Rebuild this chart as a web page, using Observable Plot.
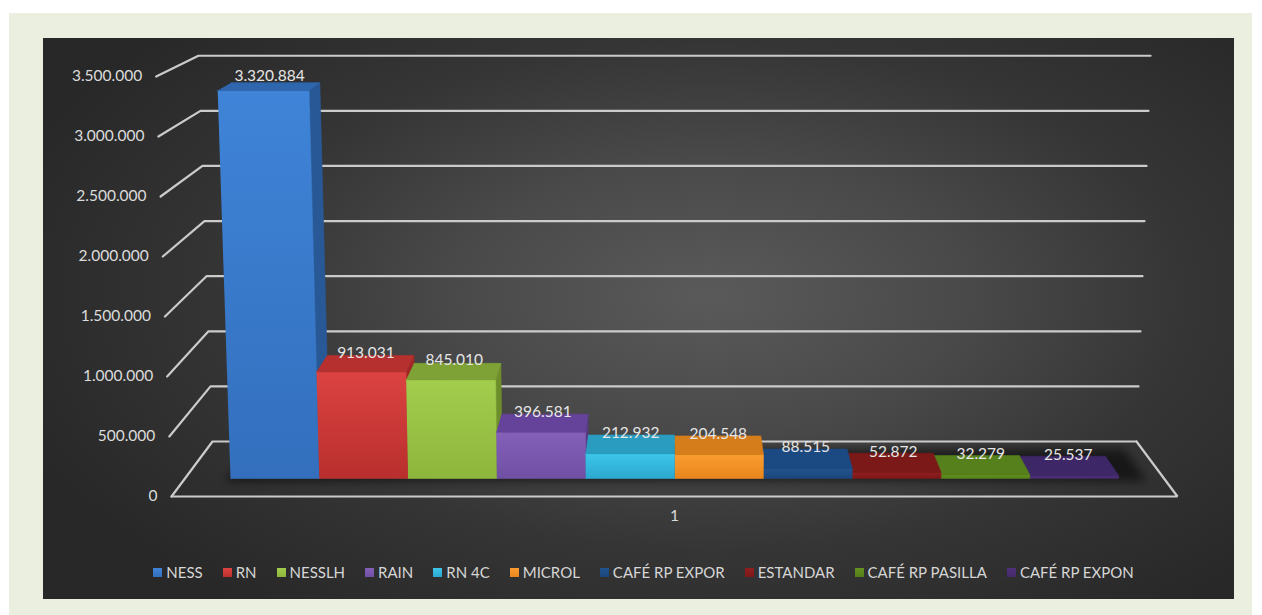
<!DOCTYPE html>
<html>
<head>
<meta charset="utf-8">
<script src="https://cdn.jsdelivr.net/npm/d3@7"></script>
<script src="https://cdn.jsdelivr.net/npm/@observablehq/plot@0.6"></script>
<style>
html,body{margin:0;padding:0;background:#ffffff;}
#page{position:relative;width:1262px;height:615px;overflow:hidden;font-family:Lato,"Open Sans",sans-serif;}
#frame{position:absolute;left:9px;top:13px;width:1243px;height:610px;background:#ebefdf;}
#panel{position:absolute;left:43px;top:38px;width:1191px;height:561px;
  background:radial-gradient(ellipse 62% 70% at 56% 46%, #5a5a5a 0%, #494949 35%, #353535 65%, #282828 100%);}
#chart{position:absolute;left:0;top:0;}
#legend{position:absolute;left:48px;width:1191px;top:563px;display:flex;justify-content:center;align-items:center;
  color:#d6d6d6;font-size:15px;white-space:nowrap;}
#legend .item{display:flex;align-items:center;margin:0 10px;}
#legend .sw{width:9px;height:9px;margin-right:4px;}
</style>
</head>
<body>
<div id="page">
  <div id="frame"></div>
  <div id="panel"></div>
  <div id="chart"></div>
  <div id="legend"></div>
</div>
<script>
// ---------- data ----------
const categories = ["NESS","RN","NESSLH","RAIN","RN 4C","MICROL","CAFÉ RP EXPOR","ESTANDAR","CAFÉ RP PASILLA","CAFÉ RP EXPON"];
const values = [3320884, 913031, 845010, 396581, 212932, 204548, 88515, 52872, 32279, 25537];
const yTicks = [0, 500000, 1000000, 1500000, 2000000, 2500000, 3000000, 3500000];
const yTickLabels = ["0","500.000","1.000.000","1.500.000","2.000.000","2.500.000","3.000.000","3.500.000"];
const xCategoryLabels = ["1"];

// ---------- colours ----------
const frontTop    = ["#3f84d8","#db4341","#a3cd4d","#8460ba","#3cc6ea","#fa9c30","#22548f","#921f1f","#64921f","#50317b"];
const frontBottom = ["#336fbd","#b92f2d","#8db63c","#7050a3","#2ca8cf","#e8861c","#1b467c","#7d1818","#557e1a","#442a69"];
const topColors   = ["#2f67ae","#b5302e","#7fa236","#66439a","#2a9cc0","#d67d1b","#1b4a83","#7b1919","#55801b","#3e2767"];
const sideColors  = ["#285996","#9f2826","#6e8e2c","#583a85","#2386a6","#bb6c15","#173f70","#6a1515","#496f17","#352158"];

// ---------- 3-D scene geometry (in data units of the x/y scales) ----------
const VP = {u: 5, v: 5625000};          // vanishing point
const KEY = 0.0087e-6;                   // vertical convergence
const DEPTH = {barFront: 1, barBack: 0.9705, wallFront: 1.0274, wallBack: 0.9437, label: 0.985};
const WALL = {u0: -0.513, u1: 10.513};
function P(u, v, s) {
  const uk = VP.u + (u - VP.u) * (1 + KEY * v);
  return {u: VP.u + s * (uk - VP.u), v: VP.v + s * (v - VP.v)};
}

// grid lines (wall + floor)
const gridPts = [];
yTicks.forEach(t => {
  [P(WALL.u0, t, DEPTH.wallFront), P(WALL.u0, t, DEPTH.wallBack), P(WALL.u1, t, DEPTH.wallBack)]
    .forEach(p => gridPts.push({...p, id: "t" + t}));
});
[P(WALL.u0, 0, DEPTH.wallFront), P(WALL.u1, 0, DEPTH.wallFront), P(WALL.u1, 0, DEPTH.wallBack)]
  .forEach(p => gridPts.push({...p, id: "floor"}));

// shadow on the floor
const shadowPts = [P(-0.05, 0, 1.004), P(10.3, 0, 1.004), P(10.3, 0, 0.955), P(0.05, 0, 0.955)]
  .map(p => ({...p, id: "shadow"}));

// bar faces, painter's order
const order = d3.range(values.length).sort((a, b) => {
  const da = Math.abs(a + 0.5 - VP.u), db = Math.abs(b + 0.5 - VP.u);
  return db - da || values[a] - values[b];
});
const facePts = [];
order.forEach(i => {
  const v = values[i], u0 = i, u1 = i + 1, f = DEPTH.barFront, b = DEPTH.barBack;
  const push = (name, pts, fill) => pts.forEach(p => facePts.push({...p, id: name + i, fill}));
  if (u1 < VP.u) push("side", [P(u1,0,f), P(u1,v,f), P(u1,v,b), P(u1,0,b)], sideColors[i]);
  if (u0 > VP.u) push("side", [P(u0,0,f), P(u0,v,f), P(u0,v,b), P(u0,0,b)], sideColors[i]);
  push("front", [P(u0,0,f), P(u1,0,f), P(u1,v,f), P(u0,v,f)], `url(#grad${i})`);
  push("top", [P(u0,v,f), P(u1,v,f), P(u1,v,b), P(u0,v,b)], topColors[i]);
});

const fmt = d3.formatLocale({decimal: ",", thousands: ".", grouping: [3], currency: ["", ""]}).format(",");
const labelPts = values.map((v, i) => ({...P(i + 0.5, v, DEPTH.label), text: fmt(v)}));
const tickPts = yTicks.map((t, i) => ({...P(WALL.u0, t, DEPTH.wallFront), text: yTickLabels[i]}));
const catPts = xCategoryLabels.map(c => ({...P(VP.u, 0, DEPTH.wallFront), text: c}));

const chart = Plot.plot({
  width: 1262,
  height: 615,
  margin: 0,
  x: {domain: [0, 10], range: [230, 1118], axis: null},
  y: {domain: [0, 3500000], range: [478, 69.2], axis: null},
  color: {type: "identity"},
  style: {background: "transparent", fontFamily: "Lato, 'Open Sans', sans-serif", overflow: "visible"},
  marks: [
    Plot.line(shadowPts, {x: "u", y: "v", z: "id", fill: "#000000", fillOpacity: 0.55, stroke: "none"}),
    Plot.line(gridPts, {x: "u", y: "v", z: "id", stroke: "#cbcbcb", strokeWidth: 2.2, strokeLinejoin: "miter"}),
    Plot.line(facePts, {x: "u", y: "v", z: "id", fill: d => d.fill, stroke: d => d.fill, strokeWidth: 0.6}),
    Plot.text(tickPts, {x: "u", y: "v", text: "text", textAnchor: "end", dx: -14, fill: "#dcdcdc", fontSize: 15.5}),
    Plot.text(labelPts, {x: "u", y: "v", text: "text", dy: -11, fill: "#e6e6e6", fontSize: 15.5}),
    Plot.text(catPts, {x: "u", y: "v", text: "text", dy: 20, fill: "#dcdcdc", fontSize: 15.5})
  ]
});

// gradients + shadow blur
const svg = d3.select(chart);
const defs = svg.insert("defs", ":first-child");
const filt = defs.append("filter").attr("id", "blur").attr("x", "-20%").attr("y", "-50%").attr("width", "140%").attr("height", "200%");
filt.append("feGaussianBlur").attr("stdDeviation", 5);
categories.forEach((c, i) => {
  const g = defs.append("linearGradient").attr("id", "grad" + i).attr("x1", 0).attr("y1", 0).attr("x2", 0).attr("y2", 1);
  g.append("stop").attr("offset", "0%").attr("stop-color", frontTop[i]);
  g.append("stop").attr("offset", "100%").attr("stop-color", frontBottom[i]);
});
svg.select("g[aria-label='line']").attr("filter", "url(#blur)");
document.getElementById("chart").appendChild(chart);

// legend
const legend = d3.select("#legend");
categories.forEach((c, i) => {
  const it = legend.append("div").attr("class", "item");
  it.append("div").attr("class", "sw").style("background", `linear-gradient(${frontTop[i]}, ${frontBottom[i]})`);
  it.append("span").text(c);
});
</script>
</body>
</html>
